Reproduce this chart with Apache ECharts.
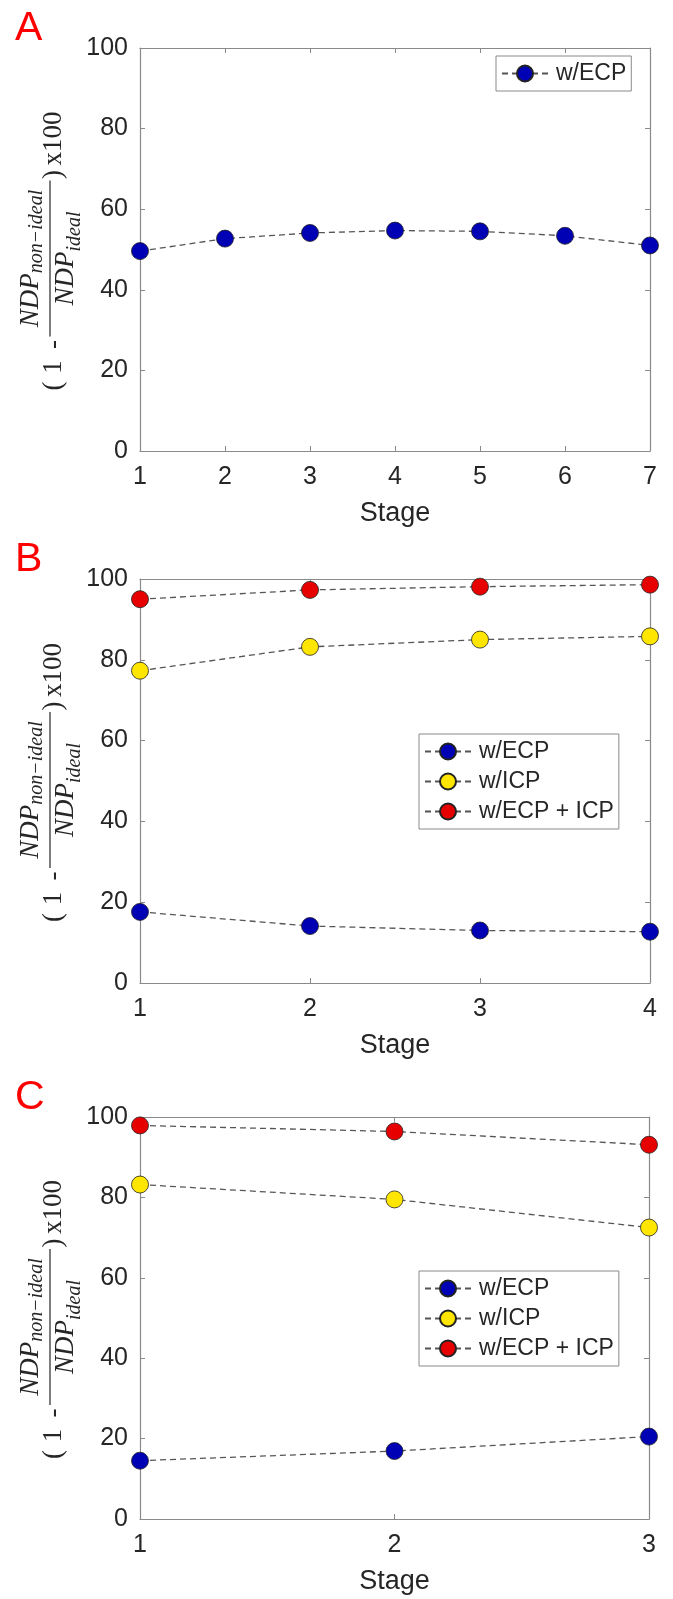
<!DOCTYPE html>
<html><head><meta charset="utf-8">
<script src="https://cdn.jsdelivr.net/npm/echarts@6/dist/echarts.min.js"></script>
<style>html,body{margin:0;padding:0;background:#fff}#c{width:673px;height:1599px}</style>
</head><body><div id="c"></div>
<script>
// ---- data ----
const stagesA = [1, 2, 3, 4, 5, 6, 7];
const ecpA = [49.6, 52.7, 54.1, 54.7, 54.5, 53.4, 51.0];
const stagesB = [1, 2, 3, 4];
const ecpB = [17.6, 14.1, 13.0, 12.7];
const icpB = [77.3, 83.2, 85.0, 85.8];
const bothB = [95.0, 97.3, 98.1, 98.6];
const stagesC = [1, 2, 3];
const ecpC = [14.5, 16.9, 20.5];
const icpC = [83.2, 79.5, 72.5];
const bothC = [97.9, 96.4, 93.1];
const yMin = 0, yMax = 100, yStep = 20;
const seriesNames = ['w/ECP', 'w/ICP', 'w/ECP + ICP'];
const panelLabels = ['A', 'B', 'C'];
const xTitle = 'Stage';

// ---- styles ----
const sans = '"Liberation Sans", Arial, sans-serif';
const serif = '"Liberation Serif", "Times New Roman", serif';
const axisColor = '#8a8a8a';
const textColor = '#262626';
const colors = { 'w/ECP': '#0000b4', 'w/ICP': '#ffe600', 'w/ECP + ICP': '#e60000' };

const panels = [
  { stages: stagesA, sets: [[seriesNames[0], ecpA]], grid: { left: 140, top: 48, width: 510, height: 403 },
    legend: { left: 496, top: 56 } },
  { stages: stagesB, sets: [[seriesNames[0], ecpB], [seriesNames[1], icpB], [seriesNames[2], bothB]],
    grid: { left: 140, top: 579, width: 510, height: 404 }, legend: { left: 419, top: 734 } },
  { stages: stagesC, sets: [[seriesNames[0], ecpC], [seriesNames[1], icpC], [seriesNames[2], bothC]],
    grid: { left: 140, top: 1117, width: 509, height: 402 }, legend: { left: 419, top: 1271 } }
];

const grid = [], xAxis = [], yAxis = [], series = [], legend = [], elements = [];

const cv = document.createElement('canvas').getContext('2d');
function tw(text, font) { cv.font = font; return cv.measureText(text).width; }

function yLabel(cx, cy) {
  const fIt = 'italic 27px ' + serif, fSub = 'italic 20px ' + serif, fRm = '27px ' + serif;
  const wNDP = tw('NDP', fIt);
  const subN = 'non\u2212ideal', subD = 'ideal';
  const wn = wNDP + tw(subN, fSub), wd = wNDP + tw(subD, fSub);
  const t = (text, x, y, font, align) => ({ type: 'text', x: x, y: y,
    style: { text: text, font: font, fill: textColor, align: align || 'center', verticalAlign: 'middle' } });
  return {
    type: 'group', x: cx, y: cy, rotation: Math.PI / 2, silent: true,
    children: [
      { type: 'line', shape: { x1: -78, y1: 0, x2: 78, y2: 0 }, style: { stroke: textColor, lineWidth: 1.2 } },
      t('(', -127.5, 4, fRm), t('1', -108.5, 4, fRm), t('-', -86, 4, fRm),
      t(')', 84, 4, fRm), t('x100', 120, 4, fRm),
      t('NDP', -wn / 2, -19, fIt, 'left'), t(subN, -wn / 2 + wNDP, -13.5, fSub, 'left'),
      t('NDP', -wd / 2, 16, fIt, 'left'), t(subD, -wd / 2 + wNDP, 25, fSub, 'left')
    ]
  };
}

panels.forEach((p, i) => {
  grid.push(Object.assign({ containLabel: false }, p.grid));
  const n = p.stages.length;
  const tick = { show: true, inside: true, length: 5, lineStyle: { color: axisColor, width: 1 } };
  const line = { show: true, onZero: false, lineStyle: { color: axisColor, width: 1.2 } };
  xAxis.push({
    type: 'value', gridIndex: i, position: 'bottom', min: p.stages[0], max: p.stages[n - 1], interval: 1,
    axisLine: line, axisTick: tick, splitLine: { show: false },
    axisLabel: { fontSize: 25, color: textColor, fontFamily: sans, margin: 14 },
    name: xTitle, nameLocation: 'middle', nameGap: 49,
    nameTextStyle: { fontSize: 27, color: textColor, fontFamily: sans }
  });
  xAxis.push({
    type: 'value', gridIndex: i, position: 'top', min: p.stages[0], max: p.stages[n - 1], interval: 1,
    axisLine: line, axisTick: tick, splitLine: { show: false }, axisLabel: { show: false }
  });
  yAxis.push({
    type: 'value', gridIndex: i, position: 'left', min: yMin, max: yMax, interval: yStep,
    axisLine: line, axisTick: tick, splitLine: { show: false },
    axisLabel: { fontSize: 25, color: textColor, fontFamily: sans, margin: 12 }
  });
  yAxis.push({
    type: 'value', gridIndex: i, position: 'right', min: yMin, max: yMax, interval: yStep,
    axisLine: line, axisTick: tick, splitLine: { show: false }, axisLabel: { show: false }
  });
  p.sets.forEach(([name, vals]) => {
    series.push({
      type: 'line', name: name, xAxisIndex: 2 * i, yAxisIndex: 2 * i,
      data: p.stages.map((s, k) => [s, vals[k]]),
      symbol: 'circle', symbolSize: 17, clip: false, animation: false,
      lineStyle: { color: '#555555', width: 1.3, type: [6, 4] },
      itemStyle: { color: colors[name], borderColor: '#222222', borderWidth: 0.8 },
      emphasis: { disabled: true }
    });
  });
  legend.push({
    left: p.legend.left, top: p.legend.top, orient: 'vertical', selectedMode: false,
    data: p.sets.map(s => s[0]), itemWidth: 46, itemHeight: 20, itemGap: 7,
    padding: [6, 5, 6, 5], borderColor: '#8a8a8a', borderWidth: 1, backgroundColor: '#ffffff',
    textStyle: { fontSize: 23, color: textColor, fontFamily: sans, padding: [0, 0, 0, 3] }
  });
  const g = p.grid;
  elements.push({ type: 'text', x: 15, y: g.top - 40.3, silent: true,
    style: { text: panelLabels[i], font: '41px ' + sans, fill: '#ff0000', align: 'left', verticalAlign: 'top' } });
  elements.push(yLabel(50, g.top + g.height / 2 + 9));
});

const chart = echarts.init(document.getElementById('c'), null, { renderer: 'canvas' });
chart.setOption({
  animation: false, backgroundColor: '#ffffff',
  grid: grid, xAxis: xAxis, yAxis: yAxis, series: series, legend: legend,
  graphic: { elements: elements }
});
</script></body></html>
